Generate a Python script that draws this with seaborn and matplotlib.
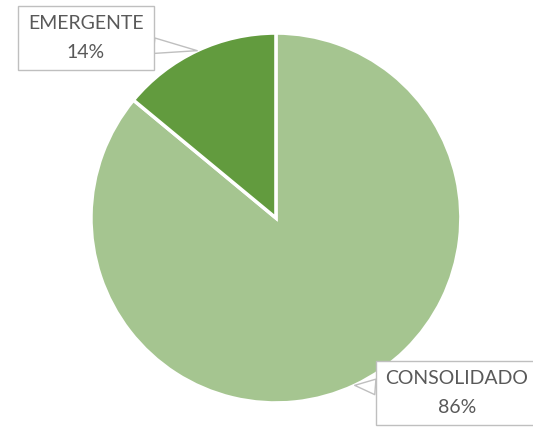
import numpy as np
import matplotlib
matplotlib.use('Agg')
import matplotlib.pyplot as plt
import seaborn as sns

categories = ['CONSOLIDADO', 'EMERGENTE']
values = [86, 14]
colors = ['#A5C590', '#629B3E']

sns.set_theme(style='white')
plt.rcParams['font.family'] = ['Lato', 'DejaVu Sans']

fig = plt.figure(figsize=(5.33, 4.28), dpi=100)
ax = fig.add_axes([0.1707, 0.0584, 0.694, 0.8645])

wedges, _ = ax.pie(values, colors=colors, startangle=90, counterclock=False,
                   wedgeprops=dict(edgecolor='white', linewidth=2.5))
ax.set_xlim(-1, 1)
ax.set_ylim(-1, 1)
ax.set_aspect('equal')
ax.axis('off')

# label boxes (figure pixel positions of the callout centres)
label_pos = [(457, 35), (86, 390)]
total = sum(values)
for w, name, val, pos in zip(wedges, categories, values, label_pos):
    mid = np.deg2rad((w.theta1 + w.theta2) / 2)
    tip = (np.cos(mid) * 1.0, np.sin(mid) * 1.0)
    ax.annotate(f'{name}\n{round(val / total * 100)}%', xy=tip, xycoords='data',
                xytext=pos, textcoords='figure pixels',
                ha='center', va='center', fontsize=14, color='#595959',
                linespacing=1.8, annotation_clip=False,
                bbox=dict(boxstyle='square,pad=0.5', fc='white', ec='#BFBFBF', lw=1),
                arrowprops=dict(arrowstyle='wedge,tail_width=0.8,shrink_factor=0.5',
                                fc='white', ec='#BFBFBF', lw=1,
                                shrinkA=0, shrinkB=0))

fig.savefig('out.png', dpi=100)
